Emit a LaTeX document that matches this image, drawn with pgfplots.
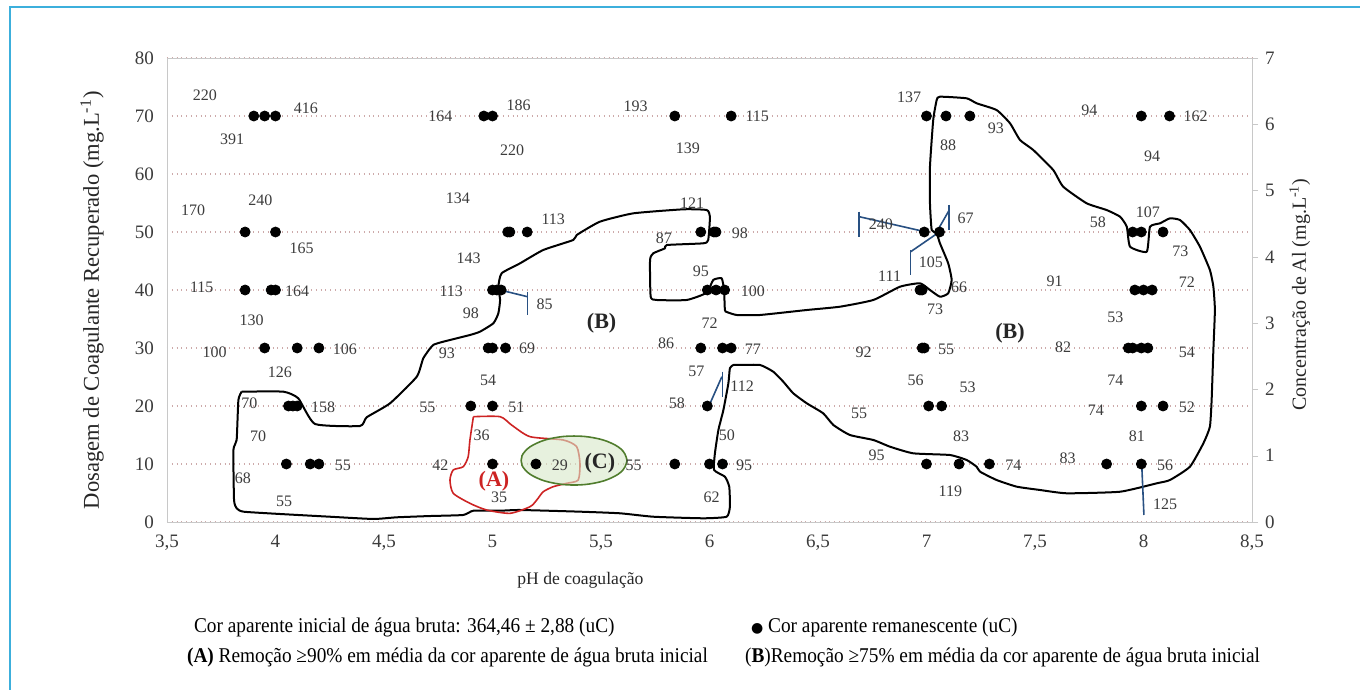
\documentclass[border=0pt]{standalone}
\usepackage{fontspec}
\setmainfont{Liberation Serif}
\newfontfamily\footfont[FakeStretch=0.92]{Liberation Serif}
\newfontfamily\dejavu{DejaVu Sans}
\usepackage{pgfplots}
\pgfplotsset{compat=1.18}
\definecolor{gridc}{RGB}{205,170,170}
\definecolor{axc}{RGB}{200,200,200}
\definecolor{framec}{RGB}{60,175,220}
\definecolor{redc}{RGB}{205,35,35}
\definecolor{greenc}{RGB}{80,125,45}
\definecolor{greenf}{RGB}{215,232,200}
\definecolor{bluec}{RGB}{40,80,130}
\definecolor{txt}{RGB}{60,60,60}
\begin{document}
\begin{tikzpicture}
\useasboundingbox (-83.5pt,-84pt) rectangle (596.5pt,261pt);
\fill[white] (-83.5pt,-84pt) rectangle (596.5pt,261pt);
\draw[framec, line width=1pt] (-78.5pt,-95pt) -- (-78.5pt,257.5pt) -- (605pt,257.5pt);
\begin{axis}[
  scale only axis, width=542.5pt, height=232pt,
  xmin=3.5, xmax=8.5, ymin=0, ymax=80,
  xtick={3.5,4,4.5,5,5.5,6,6.5,7,7.5,8,8.5},
  ytick={0,10,20,30,40,50,60,70,80},
  /pgf/number format/use comma,
  /pgf/number format/assume math mode=true,
  axis line style={axc},
  major tick length=0pt,
  ymajorgrids, grid style={gridc, dotted, line width=0.6pt},
  tick label style={font=\fontsize{9.5}{11}\selectfont, text=txt},
  xticklabel style={yshift=-3pt},
  yticklabel style={xshift=-3pt},
  clip=false,
  every axis y label/.style={at={(axis description cs:-0.069,0.478)}, rotate=90, anchor=center, font=\fontsize{11.3}{13}\selectfont},
  every axis x label/.style={at={(axis description cs:0.381,-0.125)}, anchor=center, font=\fontsize{8.8}{10}\selectfont},
  ylabel={Dosagem de Coagulante Recuperado (mg.L\textsuperscript{-1})},
  xlabel={pH de coagulação},
  label style={text=black!85},
]
% region (B)
\addplot[black, line width=1pt, line join=round, smooth, tension=0.3] coordinates {
(3.844,22.47)(4.036,22.47)(4.105,21.33)(4.182,16.9)(4.389,16.55)(4.42,18.05)(4.528,20.47)(4.651,25.05)(4.681,28.22)(4.727,30.52)(4.804,31.38)(4.896,32.24)(4.942,32.81)(5.004,34.26)(5.027,35.98)(5.035,38.28)(5.027,40.57)(5.042,42.88)(5.127,44.6)(5.234,46.9)(5.372,48.62)(5.388,49.48)(5.495,51.78)(5.649,53.22)(5.879,53.91)(5.987,53.79)(6.002,52.64)(5.994,48.62)(5.971,48.05)(5.803,47.76)(5.795,47.19)(5.741,46.33)(5.726,45.17)(5.729,38.84)(5.757,38.28)(5.895,38.28)(5.987,39.53)(6.017,41.72)(6.056,42.02)(6.067,40)(6.071,36.55)(6.08,36.2)(6.126,35.69)(6.232,35.69)(6.448,36.55)(6.601,37.12)(6.755,38.28)(6.878,40.57)(6.97,41.16)(7.016,40)(7.062,38.84)(7.1,39.43)(7.116,41.72)(7.1,44.6)(7.062,48.05)(7.047,49.78)(7.024,50.34)(7.016,54.95)(7.016,61.26)(7.031,69.31)(7.047,72.76)(7.062,73.33)(7.185,73.05)(7.231,72.19)(7.323,71.03)(7.385,68.74)(7.431,65.86)(7.492,64.14)(7.584,60.69)(7.63,57.81)(7.738,54.95)(7.83,53.79)(7.892,52.64)(7.923,50.91)(7.938,47.47)(8.015,46.6)(8.03,50.91)(8.076,51.5)(8.122,52.36)(8.168,52.07)(8.214,50.34)(8.26,47.47)(8.306,43.45)(8.322,40.57)(8.329,36.55)(8.322,29.66)(8.314,21.03)(8.306,16.43)(8.276,13.57)(8.214,9.53)(8.122,7.24)(8.061,6.67)(7.892,5.22)(7.646,4.95)(7.523,5.52)(7.416,6.09)(7.323,7.24)(7.247,8.67)(7.231,9.53)(7.185,10.69)(7.108,11.55)(6.939,11.84)(6.832,12.98)(6.755,14.14)(6.647,15)(6.571,16.72)(6.524,18.74)(6.448,20.47)(6.386,22.19)(6.34,24.19)(6.294,25.91)(6.233,27.07)(6.141,27.07)(6.11,27.07)(6.094,26.5)(6.087,23.91)(6.064,19.31)(6.041,15.86)(6.025,11.84)(6.021,8.97)(6.071,7.81)(6.091,6.09)(6.094,2.64)(6.079,0.91)(5.971,0.64)(5.741,0.91)(5.588,1.5)(5.403,1.78)(5.127,2.07)(5.035,1.95)(4.912,1.95)(4.865,1.21)(4.712,1.03)(4.559,0.81)(4.451,0.52)(4.251,0.91)(4.021,1.38)(3.852,1.78)(3.821,2.36)(3.809,3.79)(3.806,12.41)(3.821,14.14)(3.829,21.03)(3.844,22.47)
};
% region (A)
\addplot[redc, line width=0.8pt, line join=round, smooth, tension=0.4] coordinates {
(4.912,18.16)(5.035,18.16)(5.088,16.72)(5.173,14.71)(5.326,14.14)(5.388,12.98)(5.403,10.12)(5.395,7.24)(5.342,6.67)(5.28,6.09)(5.234,5.22)(5.204,3.79)(5.173,2.64)(5.081,1.5)(4.973,2.07)(4.896,3.22)(4.819,4.95)(4.804,7.24)(4.819,8.97)(4.865,9.53)(4.888,11.26)(4.896,14.14)(4.912,18.16)
};
% points
\addplot[only marks, mark=*, mark size=2.5pt, black] coordinates {
(3.90,70)(3.95,70)(4.00,70)(4.96,70)(5.00,70)(5.84,70)(6.10,70)(7.00,70)(7.09,70)(7.20,70)(7.99,70)(8.12,70)
(3.86,50)(4.00,50)(5.07,50)(5.08,50)(5.16,50)(5.96,50)(6.02,50)(6.03,50)(6.99,50)(7.06,50)(7.95,50)(7.99,50)(8.09,50)
(3.86,40)(3.98,40)(4.00,40)(5.00,40)(5.02,40)(5.04,40)(5.99,40)(6.03,40)(6.07,40)(6.97,40)(6.98,40)(7.96,40)(8.00,40)(8.04,40)
(3.95,30)(4.10,30)(4.20,30)(4.98,30)(5.00,30)(5.06,30)(5.96,30)(6.06,30)(6.10,30)(6.98,30)(6.99,30)(7.93,30)(7.95,30)(7.99,30)(8.02,30)
(4.06,20)(4.08,20)(4.10,20)(4.90,20)(5.00,20)(5.99,20)(7.01,20)(7.07,20)(7.99,20)(8.09,20)
(4.05,10)(4.16,10)(4.20,10)(5.00,10)(5.20,10)(5.84,10)(6.00,10)(6.06,10)(7.00,10)(7.15,10)(7.29,10)(7.83,10)(7.99,10)
};
% region (C)
\addplot[draw=greenc, line width=0.8pt, fill=greenf, fill opacity=0.6, smooth, tension=0.7] coordinates {
(5.620,10.6)(5.6015,12.216)(5.5485,13.584)(5.4694,14.499)(5.376,14.82)(5.2826,14.499)(5.2035,13.584)(5.1505,12.216)(5.132,10.6)(5.1505,8.984)(5.2035,7.616)(5.2826,6.701)(5.376,6.38)(5.4694,6.701)(5.5485,7.616)(5.6015,8.984)(5.620,10.6)
};
% Al concentration markers
\addplot[bluec, line width=0.8pt] coordinates {(5.035,40)(5.162,38.84)};
\addplot[bluec, line width=0.8pt] coordinates {(5.162,39.7)(5.162,35.7)};
\addplot[bluec, line width=0.8pt] coordinates {(5.996,19.88)(6.057,25.05)};
\addplot[bluec, line width=0.8pt] coordinates {(6.059,25.91)(6.059,21.6)};
\addplot[bluec, line width=0.8pt] coordinates {(6.993,50.05)(6.69,52.64)};
\addplot[bluec, line width=0.8pt] coordinates {(6.69,53.5)(6.69,49.19)};
\addplot[bluec, line width=0.8pt] coordinates {(7.039,49.48)(7.105,53.79)};
\addplot[bluec, line width=0.8pt] coordinates {(7.105,54.66)(7.105,50.34)};
\addplot[bluec, line width=0.8pt] coordinates {(7.039,49.48)(6.927,46.6)};
\addplot[bluec, line width=0.8pt] coordinates {(6.927,46.9)(6.927,42.59)};
\addplot[bluec, line width=0.8pt] coordinates {(7.992,9.83)(8.002,1.21)};
% value labels
\addplot[only marks, mark=none, nodes near coords, point meta=explicit symbolic,
  nodes near coords style={anchor=center, font=\fontsize{8}{9}\selectfont, text=txt}] table[meta=l] {
x y l
3.675 73.6 220
4.14 71.4 416
3.80 66.0 391
4.76 70 164
5.12 71.9 186
5.09 64.1 220
5.66 71.7 193
6.22 70 115
5.90 64.5 139
6.92 73.3 137
7.10 65 88
7.32 67.8 93
7.75 71 94
8.24 70 162
8.04 63.1 94
3.62 53.8 170
3.93 55.5 240
4.12 47.2 165
4.84 55.9 134
5.28 52.2 113
5.92 55.0 121
5.79 49 87
6.14 49.8 98
6.79 51.4 240
7.18 52.4 67
7.02 44.7 105
6.83 42.4 111
7.79 51.7 58
8.02 53.4 107
8.17 46.7 73
4.89 45.5 143
3.66 40.5 115
4.10 39.8 164
4.81 39.8 113
5.24 37.6 85
5.96 43.3 95
6.20 39.7 100
7.15 40.5 66
7.04 36.7 73
7.59 41.5 91
8.20 41.4 72
3.89 34.8 130
4.90 36 98
6.00 34.3 72
7.87 35.3 53
3.72 29.3 100
4.32 29.8 106
4.79 29.1 93
5.16 30 69
5.80 30.9 86
6.20 29.8 77
6.71 29.3 92
7.09 29.8 55
7.63 30.2 82
8.20 29.3 54
4.02 25.9 126
4.98 24.5 54
5.94 25.9 57
6.15 23.4 112
6.95 24.5 56
7.19 23.3 53
7.87 24.5 74
3.88 20.5 70
4.22 19.7 158
4.70 19.8 55
5.11 19.8 51
5.85 20.5 58
6.69 18.8 55
7.78 19.3 74
8.20 19.7 52
3.92 14.7 70
4.95 15 36
6.08 15 50
7.16 14.7 83
7.97 14.7 81
4.76 9.8 42
4.31 9.8 55
5.31 9.8 29
5.65 9.8 55
6.16 9.8 95
6.77 11.5 95
7.40 9.8 74
7.65 11 83
8.10 9.7 56
3.85 7.6 68
5.03 4.3 35
4.04 3.6 55
6.01 4.3 62
7.11 5.3 119
8.10 3.1 125
};
% region names
\addplot[only marks, mark=none, nodes near coords, point meta=explicit symbolic,
  nodes near coords style={anchor=center, font=\bfseries\fontsize{11}{12}\selectfont, text=black!85}] table[meta=l] {
x y l
5.503 34.26 (B)
7.385 32.5 (B)
5.495 10.12 (C)
};
\addplot[only marks, mark=none, nodes near coords, point meta=explicit symbolic,
  nodes near coords style={anchor=center, font=\bfseries\fontsize{11}{12}\selectfont, text=redc}] table[meta=l] {
x y l
5.007 6.95 (A)
};
\end{axis}
\begin{axis}[
  scale only axis, width=542.5pt, height=232pt,
  xmin=3.5, xmax=8.5, ymin=0, ymax=7,
  axis x line=none, axis y line*=right,
  ytick={0,1,2,3,4,5,6,7},
  tick align=outside, major tick length=3pt,
  axis line style={axc}, tick style={axc},
  /pgf/number format/assume math mode=true,
  tick label style={font=\fontsize{9.5}{11}\selectfont, text=txt},
  every axis y label/.style={at={(axis description cs:1.044,0.49)}, rotate=90, anchor=center},
  ylabel={Concentração de Al (mg.L\textsuperscript{-1})},
  label style={font=\fontsize{10}{12}\selectfont, text=black!85},
]
\end{axis}
\node[anchor=west, font=\footfont\fontsize{10.5}{12}\selectfont] at (10pt,-52.5pt) {Cor aparente inicial de água bruta: 364,46 ± 2,88 (uC)};
\node[anchor=west, font=\footfont\fontsize{10.5}{12}\selectfont] at (288.5pt,-52.5pt) {{\dejavu\fontsize{7}{8}\selectfont ●} Cor aparente remanescente (uC)};
\node[anchor=west, font=\footfont\fontsize{10.5}{12}\selectfont] at (6.5pt,-67.5pt) {\textbf{(A)} Remoção ≥90\% em média da cor aparente de água bruta inicial};
\node[anchor=west, font=\footfont\fontsize{10.5}{12}\selectfont] at (285.5pt,-67.5pt) {(\textbf{B})Remoção ≥75\% em média da cor aparente de água bruta inicial};
\end{tikzpicture}
\end{document}
